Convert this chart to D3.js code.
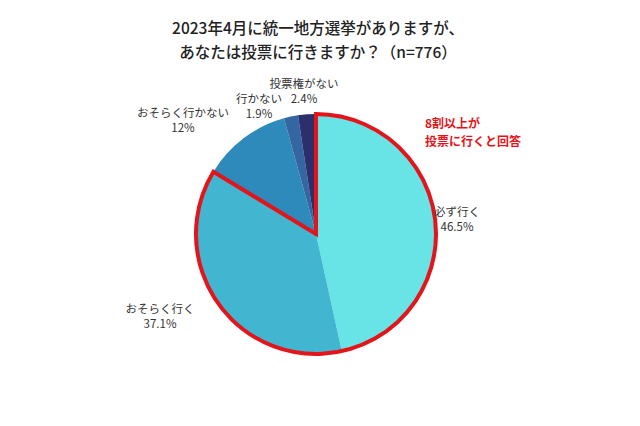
<!DOCTYPE html>
<html><head><meta charset="utf-8">
<script src="https://cdn.jsdelivr.net/npm/d3@7"></script>
<style>
html,body{margin:0;padding:0;background:#fff;}
text{font-family:"Noto Sans CJK JP","Noto Sans",sans-serif;}
</style></head>
<body>
<svg id="chart" width="640" height="426"></svg>
<script>
const categories = ["必ず行く","おそらく行く","おそらく行かない","行かない","投票権がない"];
const values = [46.5, 37.1, 12, 1.9, 2.4];
const valueLabels = ["46.5%","37.1%","12%","1.9%","2.4%"];
const colors = ["#68E3E6","#42B6D0","#2E8ABA","#3466A2","#2C2F6B"];
const titleLines = ["2023年4月に統一地方選挙がありますが、","あなたは投票に行きますか？（n=776）"];
const noteLines = ["8割以上が","投票に行くと回答"];

const svg = d3.select("#chart");
const cx = 316, cy = 234, r = 120;

svg.selectAll("text.title").data(titleLines).enter().append("text")
  .attr("class","title").attr("x",318).attr("y",(d,i)=>34+i*24)
  .attr("text-anchor","middle").attr("font-size",15.5).attr("font-weight",500).attr("fill","#222").text(d=>d);

const pie = d3.pie().sort(null).value(d=>d);
const arcs = pie(values);
const arc = d3.arc().innerRadius(0).outerRadius(r);
const g = svg.append("g").attr("transform",`translate(${cx},${cy})`);
g.selectAll("path.slice").data(arcs).enter().append("path")
  .attr("class","slice").attr("d",arc).attr("fill",(d,i)=>colors[i]);

// highlight outline around first two slices
g.append("path")
  .attr("d", d3.arc().innerRadius(0).outerRadius(r)({startAngle: arcs[0].startAngle, endAngle: arcs[1].endAngle}))
  .attr("fill","none").attr("stroke","#E3151A").attr("stroke-width",4).attr("stroke-linejoin","miter");

// labels
const labelPos = [[457,212],[160,309],[183,113],[259,99],[304,84]];
categories.forEach((c,i)=>{
  const t = svg.append("text").attr("text-anchor","middle").attr("font-size",11.5).attr("fill","#333");
  t.append("tspan").attr("x",labelPos[i][0]).attr("y",labelPos[i][1]+4).text(c);
  t.append("tspan").attr("x",labelPos[i][0]).attr("y",labelPos[i][1]+19).text(valueLabels[i]);
});

svg.selectAll("text.note").data(noteLines).enter().append("text")
  .attr("class","note").attr("x",425).attr("y",(d,i)=>128+i*17.5)
  .attr("font-size",12).attr("font-weight","bold").attr("fill","#E3151A").text(d=>d);
</script>
</body></html>
